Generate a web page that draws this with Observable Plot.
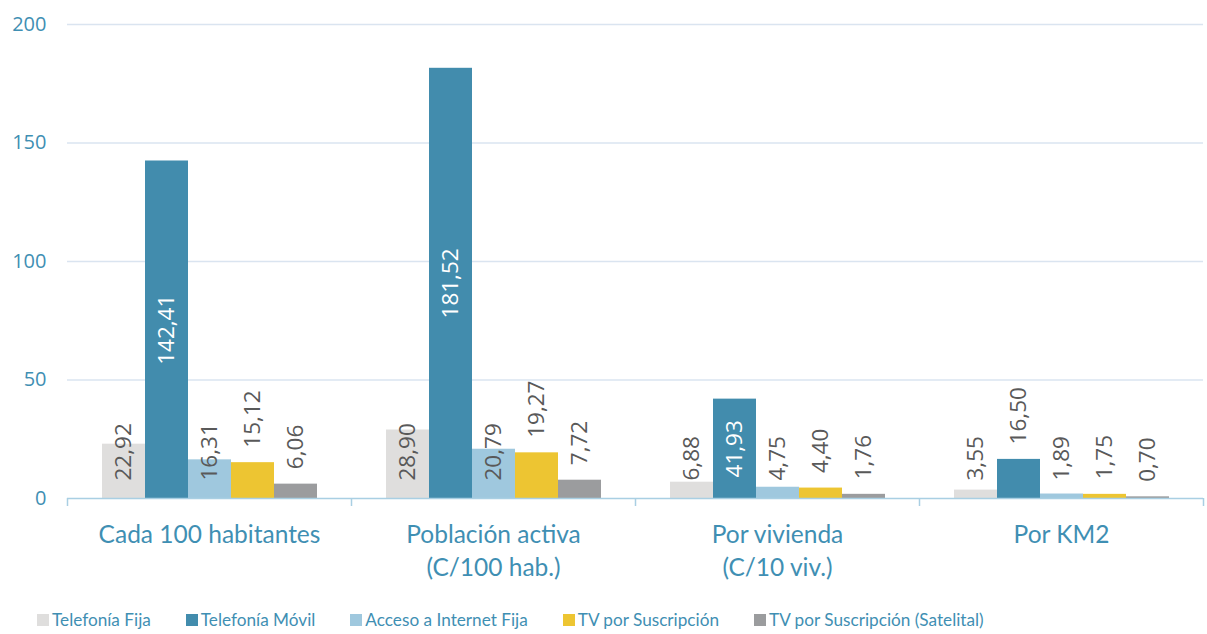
<!DOCTYPE html>
<html>
<head>
<meta charset="utf-8">
<script src="https://cdn.jsdelivr.net/npm/d3@7"></script>
<script src="https://cdn.jsdelivr.net/npm/@observablehq/plot@0.6"></script>
<style>
  html, body { margin: 0; padding: 0; background: #ffffff; }
  #chart { width: 1207px; }
  .legend { display: flex; align-items: center; height: 29px; padding-left: 37px; box-sizing: border-box;
            font-family: Lato, "Open Sans", sans-serif; font-size: 17.2px; color: #3f8fb3; gap: 35px; }
  .legend .item { display: flex; align-items: center; white-space: nowrap; }
  .legend .sw { width: 12px; height: 12px; margin-right: 3px; display: inline-block; }
</style>
</head>
<body>
<div id="chart"></div>
<script>
// ---- data ----
const groups = ["Cada 100 habitantes", "Población activa\n(C/100 hab.)", "Por vivienda\n(C/10 viv.)", "Por KM2"];
const series = ["Telefonía Fija", "Telefonía Móvil", "Acceso a Internet Fija", "TV por Suscripción", "TV por Suscripción (Satelital)"];
const telefoniaFija   = [22.92, 28.90, 6.88, 3.55];
const telefoniaMovil  = [142.41, 181.52, 41.93, 16.50];
const accesoInternet  = [16.31, 20.79, 4.75, 1.89];
const tvSuscripcion   = [15.12, 19.27, 4.40, 1.75];
const tvSatelital     = [6.06, 7.72, 1.76, 0.70];
const yTicks = [0, 50, 100, 150, 200];
const colors = ["#dfdedd", "#428cad", "#9fc8de", "#edc532", "#9b9c9e"];

const seriesValues = [telefoniaFija, telefoniaMovil, accesoInternet, tvSuscripcion, tvSatelital];
const rows = [];
groups.forEach((g, gi) => series.forEach((s, si) => rows.push({group: g, series: s, value: seriesValues[si][gi]})));

const fmt = v => d3.format(".2f")(v).replace(".", ",");
const W = 1207, H = 605, ML = 67, MR = 4, MT = 24, MB = 107;
const facetW = (W - ML - MR) / groups.length;
const teal = "#3f8fb3";
const labelGray = "#595959";
const numFont = "'Open Sans', Lato, sans-serif";

const insideBase = new Set([series[0], series[2]]);
const outsideEnd = new Set([series[3], series[4]]);
const movil = series[1];
const movilFits = d => d.series === movil && d.value > 30;

const chart = Plot.plot({
  width: W, height: H,
  marginLeft: ML, marginRight: MR, marginTop: MT, marginBottom: MB,
  style: {fontFamily: "Lato, 'Open Sans', sans-serif", background: "#ffffff"},
  fx: {domain: groups, padding: 0, axis: null},
  x: {domain: series, paddingInner: 0, paddingOuter: 0.757, axis: null},
  y: {domain: [0, 200], axis: null},
  color: {domain: series, range: colors},
  marks: [
    Plot.ruleY(yTicks.filter(t => t > 0), {stroke: "#dae4f0", strokeWidth: 1.5}),
    Plot.axisY({ticks: yTicks, tickSize: 0, tickPadding: 21, fontSize: 20, fontFamily: numFont, fill: teal, label: null}),
    Plot.barY(rows, {fx: "group", x: "series", y: "value", fill: "series"}),
    Plot.ruleY([0], {stroke: "#a9cfe3", strokeWidth: 1.5}),
    // boundary ticks of the category axis
    Plot.axisFx({anchor: "bottom", tickSize: 8, text: null, stroke: "#a9cfe3", strokeWidth: 1.5, dx: -facetW / 2, label: null}),
    Plot.axisFx({anchor: "bottom", ticks: [groups[groups.length - 1]], tickSize: 8, text: null, stroke: "#a9cfe3", strokeWidth: 1.5, dx: facetW / 2, label: null}),
    // category labels
    Plot.text(groups, {fx: d => d, text: d => d, frameAnchor: "bottom", lineAnchor: "top", dy: 21,
      fontSize: 24.5, lineHeight: 1.36, fill: teal}),
    // value labels: inside base
    Plot.text(rows.filter(d => insideBase.has(d.series)), {fx: "group", x: "series", y: () => 0, text: d => fmt(d.value),
      rotate: -90, textAnchor: "start", lineAnchor: "middle", dy: -18, fontSize: 22.5, fontFamily: numFont, fill: labelGray}),
    // value labels: outside end
    Plot.text(rows.filter(d => outsideEnd.has(d.series) || (d.series === movil && !movilFits(d))), {fx: "group", x: "series", y: "value", text: d => fmt(d.value),
      rotate: -90, textAnchor: "start", lineAnchor: "middle", dy: -15, fontSize: 22.5, fontFamily: numFont, fill: labelGray}),
    // value labels: centered inside Móvil bars
    Plot.text(rows.filter(movilFits), {fx: "group", x: "series", y: d => d.value / 2, text: d => fmt(d.value),
      rotate: -90, textAnchor: "middle", lineAnchor: "middle", fontSize: 22.5, fontFamily: numFont, fill: "#ffffff"})
  ]
});
document.getElementById("chart").appendChild(chart);

const legend = document.createElement("div");
legend.className = "legend";
series.forEach((s, i) => {
  const item = document.createElement("div");
  item.className = "item";
  const sw = document.createElement("span");
  sw.className = "sw";
  sw.style.background = colors[i];
  const t = document.createElement("span");
  t.textContent = s;
  item.appendChild(sw); item.appendChild(t);
  legend.appendChild(item);
});
document.getElementById("chart").appendChild(legend);
</script>
</body>
</html>
